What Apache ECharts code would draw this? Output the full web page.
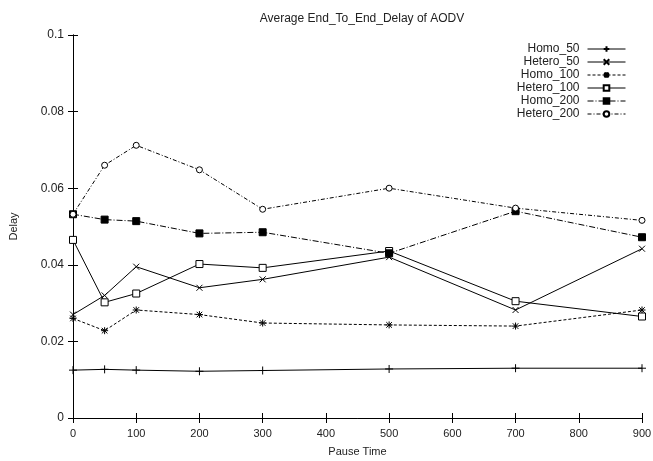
<!DOCTYPE html>
<html><head><meta charset="utf-8">
<script src="https://cdn.jsdelivr.net/npm/echarts@6/dist/echarts.min.js"></script>
<style>html,body{margin:0;padding:0;background:#fff}#c{width:653px;height:461px}</style>
</head><body><div id="c"></div>
<script>
const pauseTimes = [0, 50, 100, 200, 300, 500, 700, 900];
const homo50    = [0.0125, 0.0127, 0.0125, 0.0122, 0.0124, 0.0128, 0.0130, 0.0130];
const hetero50  = [0.0270, 0.0320, 0.0395, 0.0340, 0.0362, 0.0420, 0.0282, 0.0442];
const homo100   = [0.0260, 0.0228, 0.0282, 0.0270, 0.0248, 0.0243, 0.0240, 0.0282];
const hetero100 = [0.0465, 0.0302, 0.0325, 0.0402, 0.0392, 0.0436, 0.0305, 0.0265];
const homo200   = [0.0532, 0.0518, 0.0514, 0.0482, 0.0485, 0.0430, 0.0540, 0.0472];
const hetero200 = [0.0532, 0.0660, 0.0712, 0.0648, 0.0545, 0.0600, 0.0548, 0.0516];
const seriesNames = ['Homo_50','Hetero_50','Homo_100','Hetero_100','Homo_200','Hetero_200'];

const pts = arr => pauseTimes.map((x,i)=>[x,arr[i]]);
const plus = 'path://M0,5L10,5M5,0L5,10';
const cross = 'path://M0,0L10,10M10,0L0,10';
const star = 'path://M0,5L10,5M5,0L5,10M1,1L9,9M9,1L1,9';
const FONT = '"Liberation Sans", Arial, sans-serif';
const txt = '#222';

function mk(name, data, symbol, size, dash, fill){
  return {
    name, type:'line', data: pts(data), symbol, symbolSize:size,
    showSymbol:true, animation:false,
    lineStyle:{color:'#000', width:1, type:dash},
    itemStyle:{color:fill, borderColor:'#000', borderWidth:1}
  };
}

const chart = echarts.init(document.getElementById('c'), null, {renderer:'canvas'});
const axisCommon = {
  axisLine:{show:true, lineStyle:{color:'#000', width:1}},
  axisTick:{show:true, inside:true, length:5, lineStyle:{color:'#000'}},
  splitLine:{show:false}
};
chart.setOption({
  animation:false,
  backgroundColor:'#fff',
  title:{text:'Average End_To_End_Delay of AODV', left:357, textAlign:'center', top:8,
    textStyle:{fontFamily:FONT, fontSize:12, fontWeight:'normal', color:txt}},
  legend:{
    data:seriesNames, orient:'vertical', align:'right', right:22, top:38,
    itemWidth:38, itemHeight:7, itemGap:1,
    lineStyle:{width:1},
    textStyle:{fontFamily:FONT, fontSize:12, color:txt, lineHeight:11, padding:[0,3,0,0]}
  },
  grid:{left:73, right:11, top:35, bottom:43, containLabel:false, outerBoundsMode:'none'},
  xAxis:[
    Object.assign({type:'value', min:0, max:900, interval:100, position:'bottom',
      name:'Pause Time', nameLocation:'middle', nameGap:28,
      nameTextStyle:{fontFamily:FONT, fontSize:11, color:txt},
      axisLabel:{fontFamily:FONT, fontSize:11, color:txt, margin:10}}, axisCommon),
    Object.assign({type:'value', min:0, max:900, interval:100, position:'top',
      axisLabel:{show:false}}, axisCommon)
  ],
  yAxis:[
    Object.assign({type:'value', min:0, max:0.1, interval:0.02, position:'left',
      name:'Delay', nameLocation:'middle', nameGap:54, nameRotate:90,
      nameTextStyle:{fontFamily:FONT, fontSize:11, color:txt},
      axisLabel:{fontFamily:FONT, fontSize:12, color:txt, margin:9}}, axisCommon),
    Object.assign({type:'value', min:0, max:0.1, interval:0.02, position:'right',
      axisLabel:{show:false}}, axisCommon)
  ],
  series:[
    mk('Homo_50', homo50, plus, 8, 'solid', '#000'),
    mk('Hetero_50', hetero50, cross, 6, 'solid', '#000'),
    mk('Homo_100', homo100, star, 7, [3,2], '#000'),
    mk('Hetero_100', hetero100, 'rect', 7, 'solid', '#fff'),
    mk('Homo_200', homo200, 'rect', 7, [6,2,1,2], '#000'),
    mk('Hetero_200', hetero200, 'circle', 6, [4,2,1,2], '#fff')
  ]
});
</script></body></html>
